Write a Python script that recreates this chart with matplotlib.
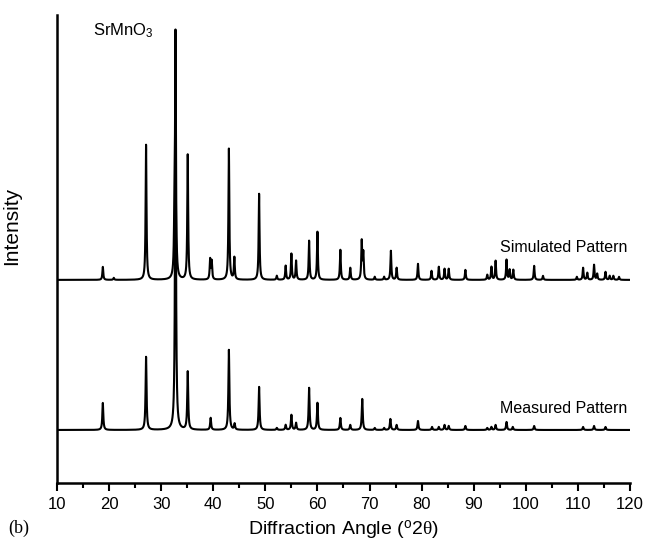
import numpy as np
import matplotlib
matplotlib.use("Agg")
import matplotlib.pyplot as plt

'''Font setup'''
plt.rcParams['font.family'] = ['Liberation Sans', 'DejaVu Sans']
plt.rcParams['mathtext.fontset'] = 'custom'
plt.rcParams['mathtext.rm'] = 'Liberation Sans'
plt.rcParams['mathtext.it'] = 'Liberation Serif'  # upright serif theta

'''Simulated pattern: peak positions (deg 2theta) and heights (a.u.)'''
sim_pos = [18.8, 20.9, 27.1, 32.55, 32.75, 35.1, 39.4, 39.7, 43.0, 44.05, 48.8,
           52.2, 53.9, 55.0, 55.9, 58.4, 60.0, 64.4, 66.3, 68.5, 68.8, 71.0,
           72.8, 74.1, 75.2, 79.3, 81.9, 83.3, 84.4, 85.2, 88.4, 92.6, 93.4,
           94.2, 96.3, 96.9, 97.6, 101.6, 103.3, 109.8, 111.0, 111.8, 113.1,
           113.7, 115.3, 116.1, 116.8, 117.9]
sim_int = [13, 2, 135, 50, 240, 125, 20, 18, 131, 22, 86,
           4, 14, 26, 19, 39, 48, 30, 12, 38, 26, 3,
           3, 29, 12, 16, 9, 13, 11, 11, 10, 5, 13,
           19, 20, 10, 10, 14, 4, 3, 12, 7, 15,
           6, 8, 4, 4, 3]

'''Measured pattern: peak positions (deg 2theta) and heights (a.u.)'''
meas_pos = [18.8, 27.1, 32.75, 35.1, 39.5, 43.0, 44.1, 48.8, 52.2, 53.9, 55.0,
            55.9, 58.4, 60.0, 64.4, 66.3, 68.6, 71.0, 72.8, 74.0, 75.2, 79.3,
            82.0, 83.3, 84.4, 85.2, 88.4, 92.6, 93.4, 94.2, 96.3, 97.5, 101.6,
            111.0, 113.1, 115.3]
meas_int = [27, 73, 357, 58, 12, 80, 6, 43, 2, 5, 15,
            7, 42, 27, 12, 5, 31, 2, 2, 11, 5, 9,
            3, 3, 5, 4, 4, 2, 3, 5, 8, 3, 4,
            3, 4, 3]

'''Vertical offsets of the two patterns'''
meas_offset = 53
sim_offset = 203

'''Angle axis and peak profiles'''
tt = np.arange(10, 120.0001, 0.01)


def profile(pos, inten, hw):
    y = np.zeros_like(tt)
    for p, h in zip(pos, inten):
        y += h / (1 + ((tt - p) / hw) ** 2)
    return y


sim = sim_offset + profile(sim_pos, sim_int, 0.1)
meas = meas_offset + profile(meas_pos, meas_int, 0.11)

'''Plot'''
fig = plt.figure(figsize=(6.46, 5.47), dpi=100)
ax = fig.add_axes([0.0882, 0.117, 0.887, 0.856])
ax.plot(tt, sim, color='black', lw=1.5)
ax.plot(tt, meas, color='black', lw=1.5)

ax.set_xlim(10, 120)
ax.set_ylim(0, 468)
ax.set_xticks(np.arange(10, 121, 10))
ax.set_xticks(np.arange(15, 120, 10), minor=True)
ax.tick_params(axis='x', which='major', direction='out', length=6, width=1.5,
               labelsize=12, pad=4)
ax.tick_params(axis='x', which='minor', direction='out', length=3.5, width=1.5)
ax.set_yticks([])
for s in ['top', 'right']:
    ax.spines[s].set_visible(False)
ax.spines['left'].set_linewidth(1.8)
ax.spines['bottom'].set_linewidth(1.8)

ax.set_xlabel(r'Diffraction Angle ($^{\rm o}$2$\theta$)', fontsize=14, labelpad=5)
ax.set_ylabel('Intensity', fontsize=15, labelpad=14)
ax.yaxis.set_label_coords(-0.062, 0.55)

ax.text(0.062, 0.966, r'SrMnO$_3$', transform=ax.transAxes, fontsize=12,
        ha='left', va='center')
ax.text(0.995, 0.502, 'Simulated Pattern', transform=ax.transAxes, fontsize=11.5,
        ha='right', va='center')
ax.text(0.995, 0.16, 'Measured Pattern', transform=ax.transAxes, fontsize=11.5,
        ha='right', va='center')
fig.text(0.012, 0.035, '(b)', fontsize=13, family='Liberation Serif',
         ha='left', va='center')

plt.savefig('out.png', dpi=100)
